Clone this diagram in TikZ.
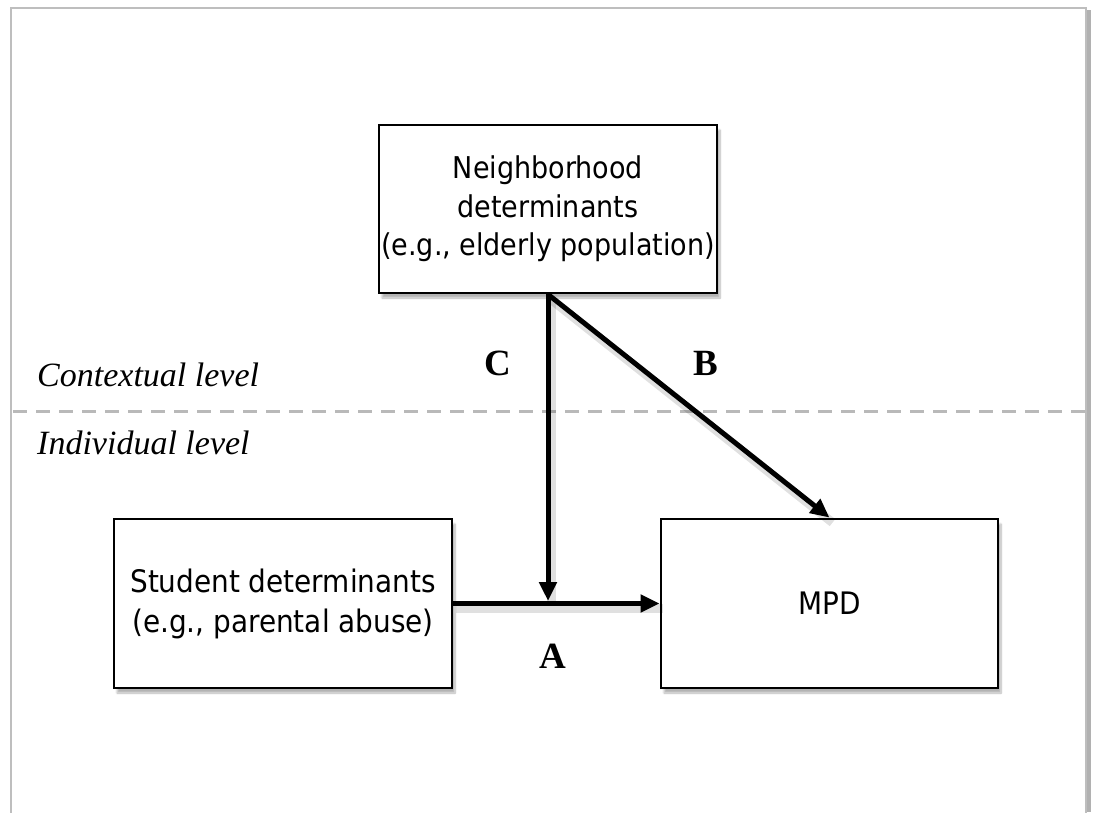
\documentclass[tikz,border=0pt]{standalone}
\usepackage{fontspec}
\setmainfont{Liberation Serif}
\newfontfamily\boxfont{DejaVu Sans Condensed}
\usetikzlibrary{arrows.meta,shadows.blur}
\definecolor{framegray}{RGB}{190,190,190}
\definecolor{dashgray}{RGB}{185,185,185}
\tikzset{
  detbox/.style={draw=black, line width=2.8pt, fill=white, inner sep=0pt,
    align=center, font=\boxfont\fontsize{31}{40}\selectfont,
    blur shadow={shadow xshift=3pt, shadow yshift=-5pt, shadow blur steps=8, shadow opacity=30}},
  path arrow/.style={line width=5pt, -{Triangle[length=19pt,width=17pt]},
    preaction={draw=black, draw opacity=0.12, line width=9pt, -,
      transform canvas={shift={(3pt,-5pt)}}}},
  pathlabel/.style={font=\bfseries\fontsize{37}{37}\selectfont, inner sep=0pt},
  levellabel/.style={font=\itshape\fontsize{34}{34}\selectfont, inner sep=0pt, anchor=base west},
}
\begin{document}
\begin{tikzpicture}[x=1pt,y=-1pt]
\useasboundingbox (0,0) rectangle (1093,812);
% frame
\draw[framegray!80!gray, line width=3.5pt] (1089,10) -- (1089,812);
\draw[framegray, line width=2.5pt] (11,830) -- (11,8) -- (1086,8) -- (1086,830);
% dashed separator
\draw[dashgray, line width=3pt, dash pattern=on 14pt off 9pt] (13,411) -- (1085,411);
\node[levellabel] (ctx) at (37,386) {Contextual level};
\node[levellabel] (ind) at (37,454) {Individual level};
% boxes
\node[detbox, minimum width=338pt, minimum height=168pt,
  font=\boxfont\fontsize{30}{38.5}\selectfont] (nb) at (548,209)
  {Neighborhood\\determinants\\(e.g., elderly population)};
\node[detbox, minimum width=338pt, minimum height=169pt] (stu) at (283,603.5)
  {Student determinants\\(e.g., parental abuse)};
\node[detbox, minimum width=337pt, minimum height=169pt] (mpd) at (829.5,603.5)
  {MPD};
% connectors
\coordinate (j) at (nb.south |- stu.east);
\draw[path arrow] (stu.east) -- (mpd.west);
\draw[path arrow, shorten >=2.5pt] (nb.south) -- (j);
\draw[path arrow] (nb.south) -- (mpd.north);
% labels
\node[pathlabel] (lc) at (498,363) {C};
\node[pathlabel] (lb) at (706,363) {B};
\node[pathlabel] (la) at (553,656) {A};
\end{tikzpicture}
\end{document}
